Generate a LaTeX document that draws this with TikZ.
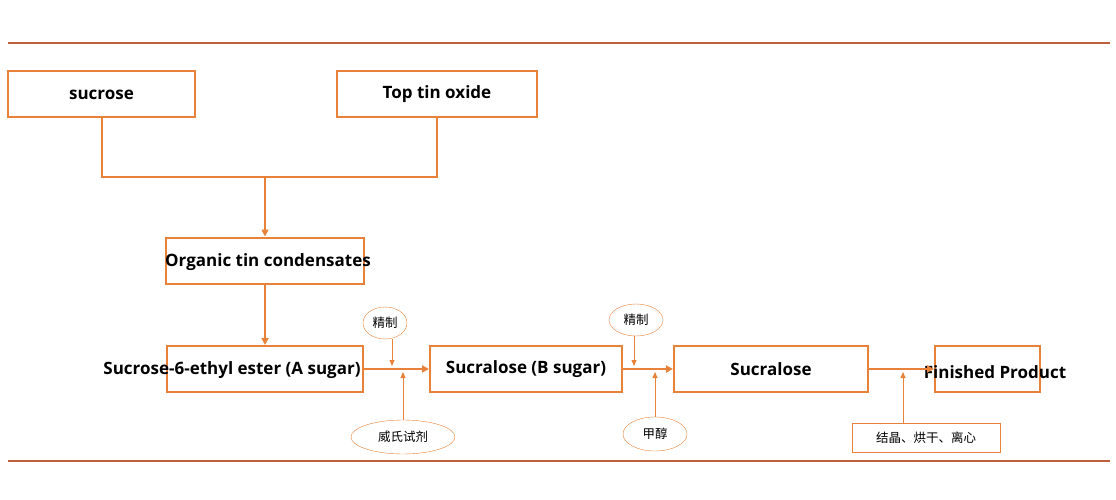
\documentclass[tikz,border=0pt]{standalone}
\usepackage{fontspec}
\setmainfont{Open Sans}
\newfontfamily\cjk{Noto Sans CJK SC}
\usetikzlibrary{arrows.meta,shapes.geometric}
\definecolor{flowline}{HTML}{E8823A}
\definecolor{rulecol}{HTML}{C0603A}
\tikzset{
  stepbox/.style={draw=flowline,line width=2pt,minimum height=46pt,inner sep=0pt},
  steplabel/.style={font=\bfseries\fontsize{17}{20}\selectfont},
  oval/.style={draw=flowline,ellipse,inner sep=0pt,font=\cjk\fontsize{12.5}{14}\selectfont},
  flow/.style={flowline,line width=2pt,-{Triangle[length=7pt,width=7pt]}},
  feed/.style={flowline,line width=0.8pt,-{Triangle[length=6pt,width=5pt]}}
}
\begin{document}
\begin{tikzpicture}[x=1pt,y=-1pt]
  \useasboundingbox (0,0) rectangle (1116,500);
  % Rules
  \draw[rulecol,line width=1.2pt] (8,43) -- (1110,43);
  \draw[rulecol,line width=1.2pt] (8,461) -- (1110,461);

  % Boxes
  \node[stepbox,minimum width=187pt] (sucrose) at (101.5,94.5) {};
  \node[steplabel] at (sucrose) {sucrose};
  \node[stepbox,minimum width=200pt] (oxide) at (437,94.5) {};
  \node[steplabel] at (oxide) {Top tin oxide};
  \node[stepbox,minimum width=198pt] (organic) at (265,260.5) {};
  \node[steplabel] at (268,262) {Organic tin condensates};
  \node[stepbox,minimum width=196pt] (asugar) at (265,369) {};
  \node[steplabel] at (232,370) {Sucrose-6-ethyl ester (A sugar)};
  \node[stepbox,minimum width=192pt] (bsugar) at (526,369) {};
  \node[steplabel] at (bsugar) {Sucralose (B sugar)};
  \node[stepbox,minimum width=194pt] (sucralose) at (771,369) {};
  \node[steplabel] at (sucralose) {Sucralose};
  \node[stepbox,minimum width=105pt] (product) at (987.5,369) {};
  \node[steplabel] at (995,372) {Finished Product};

  % Side inputs
  \node[oval,minimum width=44pt,minimum height=32pt] (refineA) at (385,323) {精制};
  \node[oval,minimum width=104pt,minimum height=34pt] (wittig) at (403,437) {威氏试剂};
  \node[oval,minimum width=54pt,minimum height=32pt] (refineB) at (636,320) {精制};
  \node[oval,minimum width=64pt,minimum height=34pt] (methanol) at (655,434) {甲醇};
  \node[draw=flowline,line width=0.8pt,minimum width=148pt,minimum height=29pt,
        font=\cjk\fontsize{12.5}{14}\selectfont] (dry) at (926,437.5) {结晶、烘干、离心};

  % Connectors
  \coordinate (join) at (265,177);
  \draw[flowline,line width=2pt] (sucrose.south) |- (join) -| (oxide.south);
  \draw[flow] (join) -- (organic.north);
  \draw[flow] (organic.south) -- (asugar.north);
  \draw[flow] (asugar) -- (bsugar);
  \draw[flow] (bsugar) -- (sucralose);
  \draw[flow] (sucralose) -- (product);

  \coordinate (inA) at (392,366);
  \coordinate (inW) at (403,372);
  \coordinate (inB) at (634,366);
  \coordinate (inM) at (655,372);
  \coordinate (inD) at (903,372);
  \draw[feed] (refineA.south -| inA) -- (inA);
  \draw[feed] (wittig.north) -- (inW);
  \draw[feed] (refineB.south -| inB) -- (inB);
  \draw[feed] (methanol.north) -- (inM);
  \draw[feed] (dry.north -| inD) -- (inD);
\end{tikzpicture}
\end{document}
